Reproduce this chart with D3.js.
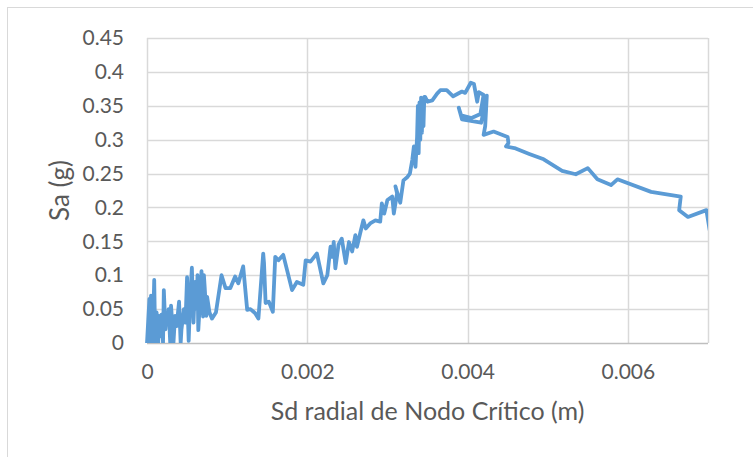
<!DOCTYPE html>
<html><head><meta charset="utf-8">
<script src="https://cdn.jsdelivr.net/npm/d3@7"></script>
<style>body{margin:0;background:#fff;}svg{display:block;}</style>
</head><body>
<svg id="c" width="753" height="457"></svg>
<script>
const xTicks = [0, 0.002, 0.004, 0.006];
const yTicks = [0, 0.05, 0.1, 0.15, 0.2, 0.25, 0.3, 0.35, 0.4, 0.45];
const xTitle = "Sd radial de Nodo Crítico (m)";
const yTitle = "Sa (g)";
// [Sd (m), Sa (g)]
const curve = [
 [0,0],[0.00003,0.065],[0.00004,0.0],[0.00005,0.07],[0.00007,0.0],[0.00009,0.093],[0.0001,0.02],[0.00011,0.0],
 [0.00012,0.045],[0.00014,0.0],[0.00015,0.04],[0.00017,0.01],[0.00018,0.042],[0.0002,0.0],[0.00021,0.078],
 [0.00023,0.02],[0.00024,0.04],[0.00026,0.03],[0.00027,0.05],[0.00029,0.0],[0.0003,0.055],[0.00032,0.02],
 [0.00033,0.0],[0.00035,0.04],[0.00037,0.025],[0.0004,0.061],[0.00042,0.0],[0.00043,0.02],[0.00046,0.05],
 [0.00048,0.03],[0.0005,0.097],[0.00051,0.04],[0.00052,0.003],[0.00054,0.07],[0.00056,0.111],[0.00058,0.03],
 [0.0006,0.09],[0.00062,0.05],[0.00063,0.1],[0.00064,0.019],[0.00066,0.06],[0.00068,0.106],[0.0007,0.039],
 [0.00071,0.1],[0.00072,0.082],[0.00074,0.04],[0.00075,0.068],[0.00078,0.045],[0.00081,0.036],[0.00086,0.045],
 [0.00093,0.1],[0.00098,0.081],[0.00104,0.081],[0.0011,0.098],[0.00114,0.088],[0.0012,0.113],[0.00125,0.049],
 [0.00129,0.05],[0.00135,0.044],[0.00139,0.036],[0.00145,0.132],[0.00146,0.118],[0.00148,0.059],[0.00152,0.061],
 [0.00157,0.046],[0.0016,0.127],[0.00164,0.122],[0.0017,0.13],[0.00181,0.078],[0.00187,0.09],[0.00195,0.086],
 [0.00198,0.122],[0.00204,0.12],[0.00212,0.132],[0.0022,0.088],[0.00225,0.1],[0.00229,0.142],[0.00231,0.127],
 [0.00233,0.149],[0.00235,0.11],[0.00239,0.145],[0.00243,0.154],[0.00248,0.118],[0.00252,0.149],[0.00256,0.135],
 [0.0026,0.159],[0.00262,0.142],[0.00266,0.162],[0.0027,0.181],[0.00273,0.169],[0.00279,0.177],[0.00285,0.181],
 [0.00291,0.179],[0.00293,0.206],[0.00296,0.191],[0.003,0.211],[0.00306,0.216],[0.00308,0.191],[0.00312,0.221],
 [0.0031,0.231],[0.00316,0.207],[0.0032,0.24],[0.00325,0.245],[0.00328,0.25],[0.00331,0.27],[0.00333,0.29],
 [0.00335,0.26],[0.00337,0.304],[0.00338,0.35],[0.00339,0.28],[0.0034,0.355],[0.00341,0.3],[0.00342,0.362],
 [0.00343,0.31],[0.00344,0.36],[0.00345,0.32],[0.00346,0.363],[0.00347,0.363],[0.0035,0.356],[0.00356,0.358],
 [0.00362,0.368],[0.00366,0.373],[0.00374,0.373],[0.00382,0.364],[0.00393,0.371],[0.00397,0.369],[0.00404,0.384],
 [0.00408,0.382],[0.00412,0.356],[0.00414,0.37],[0.0042,0.366],[0.00416,0.338],[0.00405,0.332],[0.00392,0.336],
 [0.00389,0.347],[0.00393,0.33],[0.00417,0.325],[0.00424,0.365],[0.00422,0.32],[0.0042,0.307],[0.004325,0.312],
 [0.0045,0.304],[0.00451,0.295],[0.00448,0.29],[0.0046,0.287],[0.00477,0.279],[0.00495,0.271],[0.00518,0.254],
 [0.00535,0.249],[0.0055,0.258],[0.00562,0.2415],[0.00579,0.233],[0.00587,0.2415],[0.00629,0.223],[0.00666,0.216],
 [0.00664,0.196],[0.00675,0.186],[0.00698,0.196],[0.00702,0.167]
];

const svg = d3.select("#c");
const L = 147, R = 708, T = 38, B = 343;
const x = d3.scaleLinear().domain([0, 0.007]).range([L, R]);
const y = d3.scaleLinear().domain([0, 0.45]).range([B, T]);
const font = "Lato, 'Open Sans', sans-serif";

svg.append("rect").attr("x", 7.5).attr("y", 7.5).attr("width", 800).attr("height", 500)
  .attr("fill", "#fff").attr("stroke", "#d9d9d9").attr("stroke-width", 1);

const g = svg.append("g");
g.selectAll("line.h").data(yTicks.slice(1)).join("line")
  .attr("x1", L).attr("x2", R).attr("y1", d => Math.round(y(d)) + 0.5).attr("y2", d => Math.round(y(d)) + 0.5)
  .attr("stroke", "#d9d9d9").attr("stroke-width", 1.5);
g.selectAll("line.v").data(xTicks.concat([0.007])).join("line")
  .attr("y1", T).attr("y2", B).attr("x1", d => Math.round(x(d)) + 0.5).attr("x2", d => Math.round(x(d)) + 0.5)
  .attr("stroke", "#d9d9d9").attr("stroke-width", 1.5);
g.append("line").attr("x1", L).attr("x2", R).attr("y1", B + 0.5).attr("y2", B + 0.5)
  .attr("stroke", "#bfbfbf").attr("stroke-width", 1.5);

const yAxis = d3.axisLeft(y).tickValues(yTicks).tickSize(0).tickPadding(23).tickFormat(d => String(+d.toFixed(2)));
const ya = svg.append("g").attr("transform", `translate(${L},0)`).call(yAxis);
ya.select(".domain").remove();
ya.selectAll("text").attr("font-family", font).attr("font-size", 21).attr("fill", "#595959");

const xAxis = d3.axisBottom(x).tickValues(xTicks).tickSize(0).tickPadding(21).tickFormat(d => String(+d.toFixed(3)));
const xa = svg.append("g").attr("transform", `translate(0,${B})`).call(xAxis);
xa.select(".domain").remove();
xa.selectAll("text").attr("font-family", font).attr("font-size", 21).attr("fill", "#595959");

svg.append("text").attr("x", (L + R) / 2).attr("y", 420).attr("text-anchor", "middle")
  .attr("font-family", font).attr("font-size", 25).attr("fill", "#595959").text(xTitle);
svg.append("text").attr("transform", `translate(69,${(T + B) / 2}) rotate(-90)`).attr("text-anchor", "middle")
  .attr("font-family", font).attr("font-size", 26).attr("fill", "#595959").text(yTitle);

svg.append("clipPath").attr("id", "pc").append("rect").attr("x", L - 3).attr("y", T - 5).attr("width", R - L + 3).attr("height", B - T + 5);
svg.append("path").datum(curve).attr("clip-path", "url(#pc)")
  .attr("d", d3.line().x(d => x(d[0])).y(d => y(d[1])))
  .attr("fill", "none").attr("stroke", "#5b9bd5").attr("stroke-width", 3.8)
  .attr("stroke-linejoin", "round").attr("stroke-linecap", "round");
</script>
</body></html>
